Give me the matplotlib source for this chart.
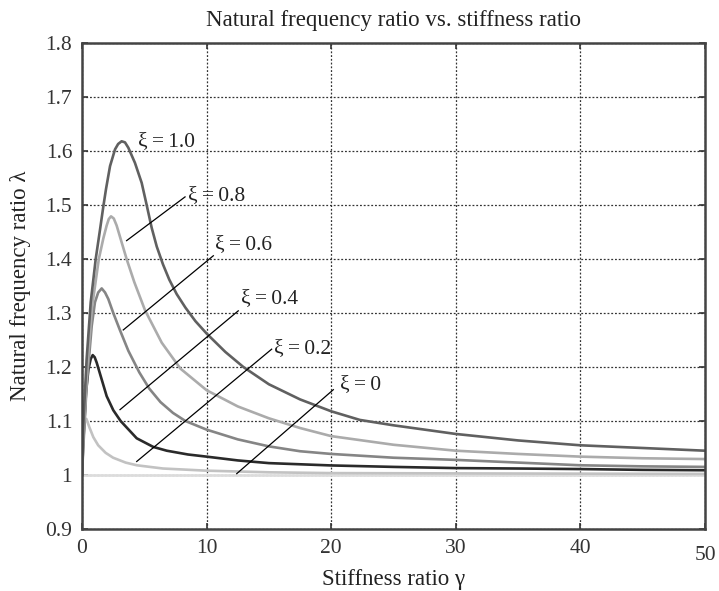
import numpy as np
import matplotlib.pyplot as plt
from matplotlib.transforms import ScaledTranslation

plt.rcParams['font.family'] = ['Liberation Serif', 'DejaVu Serif']

# 读图得到的曲线数据 (gamma, lambda)
g_xi10 = [0, 0.1, 0.37, 0.7, 1.1, 1.45, 1.71, 1.93, 2.25, 2.65, 2.9, 3.18, 3.45, 3.72, 4.25, 4.79, 5.19, 5.59, 6.0, 6.5, 7.0, 7.6, 8.3, 9.1, 10, 11.5, 12.95, 15, 17.5, 20, 22.3, 25, 30, 35, 40, 45, 50]
l_xi10 = [1.0, 1.09, 1.214, 1.32, 1.40, 1.455, 1.497, 1.53, 1.572, 1.603, 1.613, 1.618, 1.616, 1.606, 1.578, 1.541, 1.50, 1.458, 1.423, 1.39, 1.362, 1.335, 1.31, 1.285, 1.262, 1.228, 1.20, 1.168, 1.14, 1.118, 1.102, 1.092, 1.076, 1.064, 1.055, 1.05, 1.045]

g_xi08 = [0, 0.1, 0.4, 0.8, 1.35, 1.71, 1.98, 2.15, 2.33, 2.55, 2.78, 3.18, 3.58, 4.2, 5.06, 6.4, 7.9, 10, 12.5, 15, 17.5, 20, 25, 30, 35, 40, 45, 50]
l_xi08 = [1.0, 1.07, 1.19, 1.31, 1.40, 1.438, 1.462, 1.474, 1.479, 1.475, 1.462, 1.431, 1.40, 1.357, 1.305, 1.245, 1.197, 1.157, 1.127, 1.105, 1.087, 1.072, 1.056, 1.045, 1.039, 1.034, 1.031, 1.0295]

g_xi06 = [0, 0.1, 0.37, 0.78, 1.04, 1.3, 1.58, 1.85, 2.11, 2.51, 3.05, 3.72, 4.6, 5.4, 6.3, 7.3, 8.3, 10, 12.5, 15, 17.5, 20, 25, 30, 35, 40, 45, 50]
l_xi06 = [1.0, 1.05, 1.165, 1.276, 1.32, 1.338, 1.3455, 1.338, 1.326, 1.30, 1.268, 1.23, 1.19, 1.16, 1.135, 1.115, 1.10, 1.084, 1.066, 1.053, 1.044, 1.039, 1.032, 1.028, 1.023, 1.018, 1.016, 1.015]

g_xi04 = [0, 0.1, 0.32, 0.51, 0.7, 0.86, 1.02, 1.18, 1.58, 1.98, 2.51, 3.1, 4.39, 5.72, 6.8, 8.5, 10, 12.5, 15, 20, 25, 30, 35, 40, 45, 50]
l_xi04 = [1.0, 1.06, 1.152, 1.195, 1.215, 1.222, 1.218, 1.208, 1.177, 1.146, 1.12, 1.10, 1.068, 1.052, 1.045, 1.038, 1.034, 1.027, 1.022, 1.0177, 1.015, 1.0128, 1.012, 1.011, 1.0095, 1.0088]

g_xi02 = [0, 0.05, 0.15, 0.35, 0.6, 0.91, 1.3, 1.9, 2.5, 3.5, 4.4, 6.5, 10, 15, 20, 30, 40, 50]
l_xi02 = [1.0, 1.06, 1.095, 1.104, 1.088, 1.07, 1.055, 1.041, 1.032, 1.023, 1.018, 1.012, 1.008, 1.005, 1.0035, 1.003, 1.0025, 1.002]

g_xi00 = [0, 50]
l_xi00 = [1.0, 1.0]

x_ticks = [0, 10, 20, 30, 40, 50]
y_ticks = [0.9, 1.0, 1.1, 1.2, 1.3, 1.4, 1.5, 1.6, 1.7, 1.8]
y_ticklabels = ['0.9', '1', '1.1', '1.2', '1.3', '1.4', '1.5', '1.6', '1.7', '1.8']

labels = ['ξ\u2009=\u20091.0', 'ξ\u2009=\u20090.8', 'ξ\u2009=\u20090.6',
          'ξ\u2009=\u20090.4', 'ξ\u2009=\u20090.2', 'ξ\u2009=\u20090']

fig = plt.figure(figsize=(7.19, 5.91), dpi=100)
ax = fig.add_axes([82/719, 1-529/591, (705-82)/719, (529-43)/591])

curves = [(g_xi00, l_xi00, '#dcdcdc'),
          (g_xi02, l_xi02, '#c2c2c2'),
          (g_xi04, l_xi04, '#2a2a2a'),
          (g_xi06, l_xi06, '#858585'),
          (g_xi08, l_xi08, '#ababab'),
          (g_xi10, l_xi10, '#606060')]
for g, l, c in curves:
    ax.plot(g, l, color=c, lw=1.9, solid_joinstyle='round')

# 标注文字和引线
label_pos = [(4.5, 1.617), (8.5, 1.517), (10.7, 1.426), (12.8, 1.326), (15.4, 1.235), (20.7, 1.168)]
leaders = [None,
           ((3.58, 8.27), (1.434, 1.515)),
           ((3.31, 10.54), (1.2686, 1.406)),
           ((3.05, 12.54), (1.121, 1.304)),
           ((4.39, 15.22), (1.025, 1.233)),
           ((12.42, 20.17), (1.0025, 1.158))]
for txt, (tx, ty), ld in zip(labels, label_pos, leaders):
    ax.text(tx, ty, txt, fontsize=15.5, va='center', ha='left', color='#222222')
    if ld is not None:
        ax.plot(ld[0], ld[1], color='black', lw=0.9)

ax.set_xlim(0, 50)
ax.set_ylim(0.9, 1.8)
ax.set_xticks(x_ticks)
ax.set_yticks(y_ticks)
ax.set_yticklabels(y_ticklabels)
ax.grid(True, color='#333333', linestyle=(0, (1.5, 1.5)), lw=0.9)
ax.tick_params(direction='in', length=4, width=1.2, labelsize=15.5, colors='#333333',
               top=True, right=True, pad=7)
for s in ax.spines.values():
    s.set_color('#444444')
    s.set_linewidth(1.8)

# "50" 标签在原图中略低
lab50 = ax.get_xticklabels()[-1]
lab50.set_transform(lab50.get_transform() + ScaledTranslation(0, -7/100, fig.dpi_scale_trans))

ax.set_title('Natural frequency ratio vs. stiffness ratio', fontsize=16.5, color='#222222', pad=12)
ax.set_xlabel('Stiffness ratio γ', fontsize=16.5, color='#222222')
ax.set_ylabel('Natural frequency ratio λ', fontsize=16.5, color='#222222')
ax.xaxis.set_label_coords(0.5, -0.082)
ax.yaxis.set_label_coords(-0.082, 0.5)

fig.savefig('out.png', dpi=100)
